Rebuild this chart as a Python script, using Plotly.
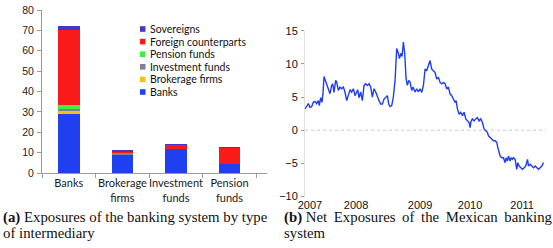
import plotly.graph_objects as go

W, H = 553, 248

# ---------------- Data: panel (a) ----------------
categories = ["Banks", "Brokerage<br>firms", "Investment<br>funds", "Pension<br>funds"]
series_names = ["Banks", "Brokerage firms", "Investment funds", "Pension funds",
                "Foreign counterparts", "Sovereigns"]
banks = [28.8, 9.3, 11.8, 4.4]
brokerage_firms = [2.1, 0.0, 0.0, 0.0]
investment_funds = [0.6, 0.4, 0.0, 0.0]
pension_funds = [1.8, 0.0, 0.0, 0.0]
foreign_counterparts = [36.9, 1.0, 2.0, 7.9]
sovereigns = [2.0, 0.3, 0.3, 0.3]
series_colors = ["#1f3ff0", "#f2c21b", "#7f7f9a", "#3cf03c", "#fa1a1a", "#4a34c0"]
y_ticks_a = [0, 10, 20, 30, 40, 50, 60, 70, 80]

# ---------------- Data: panel (b) ----------------
years = [2006.906, 2006.937, 2006.969, 2007.000, 2007.031, 2007.063, 2007.094, 2007.126,
         2007.157, 2007.176, 2007.201, 2007.226, 2007.245, 2007.264, 2007.289, 2007.314,
         2007.346, 2007.377, 2007.409, 2007.428, 2007.453, 2007.484, 2007.503, 2007.535,
         2007.566, 2007.597, 2007.629, 2007.660, 2007.692, 2007.723, 2007.755, 2007.786,
         2007.818, 2007.849, 2007.881, 2007.899, 2007.925, 2007.956, 2007.987, 2008.019,
         2008.050, 2008.082, 2008.113, 2008.145, 2008.176, 2008.208, 2008.239, 2008.270,
         2008.302, 2008.333, 2008.365, 2008.396, 2008.428, 2008.459, 2008.484, 2008.509,
         2008.541, 2008.572, 2008.604, 2008.635, 2008.667, 2008.686, 2008.717, 2008.736,
         2008.761, 2008.786, 2008.811, 2008.836, 2008.862, 2008.887, 2008.918, 2008.943,
         2008.981, 2009.013, 2009.044, 2009.075,
         2009.107, 2009.138, 2009.170, 2009.201, 2009.233, 2009.264, 2009.296, 2009.327,
         2009.358, 2009.390, 2009.421, 2009.453, 2009.484, 2009.516, 2009.547, 2009.579,
         2009.610, 2009.642, 2009.673, 2009.704, 2009.736, 2009.755, 2009.780, 2009.811,
         2009.843, 2009.874, 2009.906, 2009.937, 2009.969, 2010.000, 2010.019, 2010.038,
         2010.063, 2010.094, 2010.126, 2010.157, 2010.189, 2010.220, 2010.252, 2010.283,
         2010.315, 2010.346, 2010.365, 2010.396, 2010.428, 2010.459, 2010.491, 2010.522,
         2010.541, 2010.560, 2010.585, 2010.616, 2010.648, 2010.679, 2010.698, 2010.723,
         2010.742, 2010.774, 2010.792, 2010.818, 2010.836, 2010.868, 2010.899, 2010.918,
         2010.943, 2010.975, 2011.006, 2011.038, 2011.069, 2011.101, 2011.120, 2011.151,
         2011.182, 2011.214, 2011.245, 2011.277, 2011.308, 2011.340, 2011.371, 2011.403]
net_exposure = [3.2, 3.7, 4.0, 3.45, 3.55, 4.2, 4.35, 4.0,
                4.45, 3.7, 4.9, 4.2, 5.5, 8.1, 7.5, 6.75,
                6.25, 5.5, 6.75, 7.0, 5.7, 7.5, 7.25, 6.0,
                6.5, 6.25, 6.5, 5.75, 4.45, 5.5, 6.1, 5.75,
                6.25, 5.2, 6.0, 6.1, 4.9, 5.75, 4.45, 6.75,
                7.0, 6.75, 7.0, 6.5, 5.0, 6.25, 5.75, 5.0,
                4.45, 3.95, 3.95, 4.7, 4.9, 5.2, 3.95, 3.55,
                3.7, 5.0, 7.5, 12.3, 11.6, 10.8, 11.6, 11.1,
                13.3, 11.6, 7.8, 6.75, 7.5, 7.25, 6.0, 6.5,
                5.75, 6.25, 5.75, 6.25,
                5.7, 6.7, 9.2, 9.0, 9.75, 10.5, 9.2, 9.0,
                8.7, 7.7, 8.0, 7.2, 7.0, 7.2, 7.0, 6.2,
                6.5, 5.45, 5.2, 4.7, 4.2, 4.45, 3.2, 2.4,
                2.7, 2.2, 2.7, 1.7, 1.4, 1.15, 0.4, 1.4,
                1.7, 1.4, 1.7, 1.9, 1.4, 1.7, 1.15, 0.15,
                -0.1, -0.35, -0.85, -1.1, -1.35, -1.6, -1.6, -1.85,
                -2.6, -3.4, -3.9, -4.15, -4.15, -4.9, -4.15, -4.65,
                -3.9, -4.65, -4.15, -4.4, -4.15, -4.4, -5.9, -4.9,
                -5.4, -5.65, -5.9, -5.65, -5.4, -4.4, -5.4, -5.15,
                -5.4, -5.65, -5.4, -5.65, -5.9, -5.65, -5.4, -4.9]
year_tick_positions = [2007.0, 2007.868, 2009.075, 2010.019, 2011.0]
year_tick_labels = ["2007", "2008", "2009", "2010", "2011"]
y_ticks_b = [-10, -5, 0, 5, 10, 15]

caption_a = ["<b>(a)</b> Exposures of the banking system by type", "of intermediary"]
caption_b = ["<b>(b)</b> Net \u2009Exposures \u2009of \u2009the \u2009Mexican \u2009banking", "system"]

# ---------------- Figure ----------------
def px_x(v):
    return v / W

def px_y(v):
    return 1 - v / H

fig = go.Figure()
values = [banks, brokerage_firms, investment_funds, pension_funds, foreign_counterparts, sovereigns]
for name, vals, col in zip(series_names, values, series_colors):
    fig.add_trace(go.Bar(x=categories, y=vals, name=name, marker=dict(color=col, line=dict(width=0)),
                         width=0.4, showlegend=False, xaxis="x", yaxis="y"))

fig.add_trace(go.Scatter(x=years, y=net_exposure, mode="lines", line=dict(color="#1f3cf5", width=1.4),
                         showlegend=False, xaxis="x2", yaxis="y2"))

axis_font = dict(family="Liberation Sans, Arial, sans-serif", size=10.5, color="#222222")

fig.update_layout(
    width=W, height=H, margin=dict(l=0, r=0, t=0, b=0, autoexpand=False),
    paper_bgcolor="white", plot_bgcolor="white",
    barmode="stack", bargap=0.6,
    xaxis=dict(domain=[px_x(42), px_x(267)], range=[-0.5, 3.7], type="category",
               showline=True, linecolor="#9a9a9a", linewidth=1, ticks="outside", ticklen=4,
               tickcolor="#9a9a9a", tickson="boundaries", showgrid=False, zeroline=False,
               tickangle=0, automargin=False,
               tickfont=dict(family="Lato, Open Sans, sans-serif", size=11, color="#1a1a1a"),
               anchor="y", fixedrange=True),
    yaxis=dict(domain=[px_y(173), px_y(10)], range=[0, 80], tickvals=y_ticks_a,
               showline=True, linecolor="#9a9a9a", linewidth=1, ticks="outside", ticklen=4,
               tickcolor="#9a9a9a", showgrid=False, zeroline=False, tickfont=axis_font,
               anchor="x", ticklabelstandoff=1, automargin=False),
    xaxis2=dict(domain=[px_x(305), px_x(546)], range=[2006.906, 2011.45],
                tickvals=year_tick_positions, ticktext=year_tick_labels,
                showline=False, ticks="", showgrid=False, zeroline=False,
                tickangle=0, automargin=False,
                tickfont=dict(family="Liberation Sans, Arial, sans-serif", size=11, color="#111111"),
                anchor="y2"),
    yaxis2=dict(domain=[px_y(196.5), px_y(30.7)], range=[-10, 15], tickvals=y_ticks_b,
                showline=True, linecolor="#e0e0e0", linewidth=1, ticks="outside", ticklen=3,
                tickcolor="#999999", showgrid=False, zeroline=False, automargin=False,
                tickfont=dict(family="Liberation Sans, Arial, sans-serif", size=11, color="#111111"),
                anchor="x2", ticklabelstandoff=1),
)

# dotted zero line on panel (b)
fig.add_shape(type="line", xref="x2 domain", yref="y2", x0=0, x1=1, y0=0, y1=0,
              line=dict(color="#c8c8c8", width=1, dash="dot"), layer="below")

# manual legend (top entry = last series)
legend_rows_y = [29, 41.6, 54.2, 66.8, 79.4, 92]
for i, (name, col) in enumerate(zip(reversed(series_names), reversed(series_colors))):
    yc = legend_rows_y[i]
    fig.add_shape(type="rect", xref="paper", yref="paper",
                  x0=px_x(140), x1=px_x(145.5), y0=px_y(yc + 2.8), y1=px_y(yc - 2.8),
                  fillcolor=col, line=dict(width=0))
    fig.add_annotation(xref="paper", yref="paper", x=px_x(147.5), y=px_y(yc), text=name,
                       showarrow=False, xanchor="left", yanchor="middle",
                       font=dict(family="Lato, Open Sans, sans-serif", size=10.5, color="#111111"))

cap_font = dict(family="Liberation Serif, Times New Roman, serif", size=14.8, color="#111111")
for txt, yc in zip(caption_a, [217, 233]):
    fig.add_annotation(xref="paper", yref="paper", x=px_x(1), y=px_y(yc), text=txt,
                       showarrow=False, xanchor="left", yanchor="middle", font=cap_font)
for txt, yc in zip(caption_b, [217, 233]):
    fig.add_annotation(xref="paper", yref="paper", x=px_x(282), y=px_y(yc), text=txt,
                       showarrow=False, xanchor="left", yanchor="middle", font=cap_font)

fig.write_html("out.html", config=dict(displayModeBar=False),
               post_script="document.body.style.margin='0';document.body.style.padding='0';")
